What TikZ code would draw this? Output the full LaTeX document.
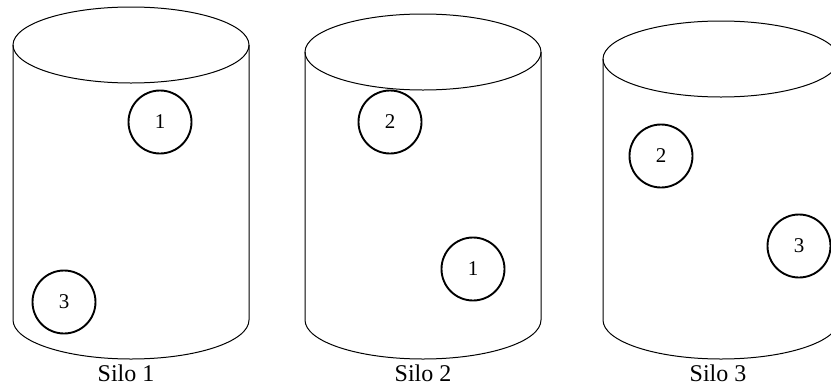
\documentclass[tikz,border=0pt]{standalone}
\usepackage{fontspec}
\setmainfont{Liberation Serif}
\begin{document}
\begin{tikzpicture}[x=1pt,y=-1pt,
	silo/.style={line width=1pt},
	bin/.style={circle,draw,line width=1.9pt,minimum size=63pt,inner sep=0pt,font=\fontsize{21}{24}\selectfont},
	silolabel/.style={font=\fontsize{24}{28}\selectfont}]
			\clip (0,0) rectangle (831,389);
			\foreach \cx/\cy/\lx/\n in {131/45/126/1,423/52/423/2,721/59/718/3}{
				\draw[silo] (\cx,\cy) ellipse [x radius=118,y radius=38];
				\draw[silo] (\cx-118,\cy) -- (\cx-118,320) arc[start angle=180,end angle=0,x radius=118,y radius=39] -- (\cx+118,\cy);
				\node[silolabel] (label\n) at (\lx,373) {Silo \n}; }
			
			\node[bin] (siloAone) at (160,122) {1};
			\node[bin] (siloAthree) at (64,302) {3};
			\node[bin] (siloBtwo) at (390,122) {2};
			\node[bin] (siloBone) at (473,269) {1};
			\node[bin] (siloCtwo) at (661,156) {2};
			\node[bin] (siloCthree) at (799,246) {3};
		\end{tikzpicture}
\end{document}
